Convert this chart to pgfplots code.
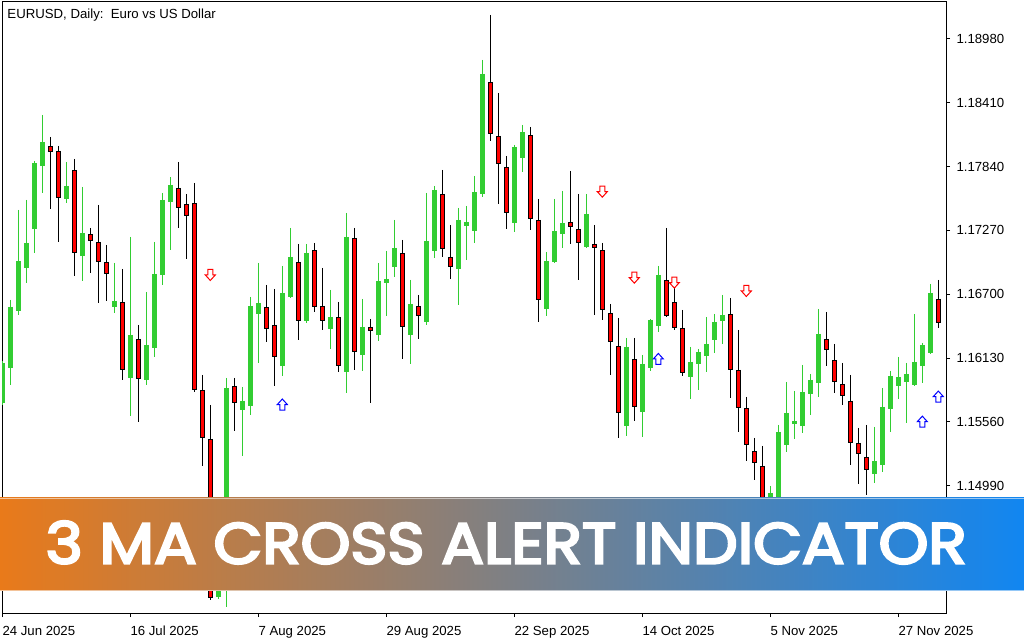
\documentclass[border=0pt]{standalone}
\usepackage{fontspec}
\setmainfont{Liberation Sans}
\newfontfamily\bannerfont{Poppins}[FakeBold=4]
\usepackage{graphicx}
\usepackage{pgfplots}
\usepackage{pgfplotstable}
\pgfplotsset{compat=1.18}

\definecolor{cgreen}{RGB}{50,205,50}
\definecolor{cred}{RGB}{255,0,0}
\definecolor{bL}{RGB}{233,122,26}
\definecolor{bM}{RGB}{128,126,129}
\definecolor{bR}{RGB}{17,134,241}

\pgfdeclareplotmark{dnarrow}{%
 \pgfpathmoveto{\pgfqpoint{-2.5bp}{5.5bp}}%
 \pgfpathlineto{\pgfqpoint{2.5bp}{5.5bp}}%
 \pgfpathlineto{\pgfqpoint{2.5bp}{0bp}}%
 \pgfpathlineto{\pgfqpoint{5bp}{0bp}}%
 \pgfpathlineto{\pgfqpoint{0bp}{-5.5bp}}%
 \pgfpathlineto{\pgfqpoint{-5bp}{0bp}}%
 \pgfpathlineto{\pgfqpoint{-2.5bp}{0bp}}%
 \pgfpathclose
 \pgfusepathqfillstroke}
\pgfdeclareplotmark{uparrow}{%
 \pgfpathmoveto{\pgfqpoint{-2.5bp}{-5.5bp}}%
 \pgfpathlineto{\pgfqpoint{2.5bp}{-5.5bp}}%
 \pgfpathlineto{\pgfqpoint{2.5bp}{0bp}}%
 \pgfpathlineto{\pgfqpoint{5bp}{0bp}}%
 \pgfpathlineto{\pgfqpoint{0bp}{5.5bp}}%
 \pgfpathlineto{\pgfqpoint{-5bp}{0bp}}%
 \pgfpathlineto{\pgfqpoint{-2.5bp}{0bp}}%
 \pgfpathclose
 \pgfusepathqfillstroke}

% bullish candles: x open high low close
\pgfplotstableread{
x o h l c
0 1.15729 1.16104 1.15711 1.16086
1 1.16042 1.16649 1.15890 1.16586
2 1.16551 1.17453 1.16515 1.16997
3 1.16935 1.17542 1.16801 1.17158
4 1.17283 1.17890 1.17069 1.17872
5 1.17846 1.18301 1.17605 1.18060
8 1.17551 1.17881 1.17515 1.17667
10 1.17042 1.17658 1.16819 1.17247
14 1.16586 1.16979 1.16533 1.16640
16 1.15952 1.17212 1.15613 1.16336
18 1.15935 1.16720 1.15890 1.16247
19 1.16220 1.17167 1.16140 1.16881
20 1.16872 1.17605 1.16783 1.17542
21 1.17524 1.17747 1.17095 1.17676
27 1.13997 1.14416 1.13979 1.14327
28 1.14327 1.15952 1.13908 1.15863
30 1.15667 1.15872 1.15256 1.15747
31 1.15702 1.16676 1.15622 1.16595
32 1.16524 1.16979 1.16086 1.16622
35 1.16060 1.16953 1.15970 1.16712
36 1.16676 1.17292 1.16667 1.17033
38 1.16461 1.17149 1.16444 1.17069
41 1.16390 1.16738 1.16211 1.16497
43 1.16006 1.17426 1.15819 1.17212
45 1.16158 1.16658 1.16015 1.16408
47 1.16336 1.16979 1.16283 1.16819
48 1.16801 1.17087 1.16506 1.16837
49 1.16944 1.17363 1.16854 1.17113
51 1.16336 1.16828 1.16077 1.16613
53 1.16453 1.17605 1.16426 1.17176
54 1.17087 1.17667 1.17024 1.17631
57 1.16926 1.17471 1.16604 1.17363
58 1.17310 1.17488 1.17006 1.17346
59 1.17265 1.17756 1.17158 1.17613
60 1.17596 1.18792 1.17569 1.18667
64 1.17337 1.18033 1.17256 1.18015
65 1.17917 1.18212 1.17792 1.18149
68 1.16569 1.17078 1.16506 1.16997
69 1.16988 1.17551 1.16979 1.17265
70 1.17238 1.17622 1.17113 1.17337
73 1.17122 1.17596 1.17113 1.17417
78 1.15524 1.16310 1.15435 1.16229
80 1.15649 1.16158 1.15426 1.16077
81 1.16042 1.16479 1.16015 1.16470
82 1.16417 1.16953 1.16363 1.16872
86 1.15961 1.16229 1.15765 1.16095
87 1.16077 1.16211 1.15845 1.16185
88 1.16149 1.16497 1.16006 1.16256
89 1.16292 1.16524 1.16176 1.16453
90 1.16461 1.16694 1.16256 1.16515
96 1.14792 1.14988 1.14684 1.14926
97 1.14890 1.15533 1.14845 1.15470
98 1.15354 1.15917 1.15292 1.15640
99 1.15542 1.15836 1.15408 1.15568
100 1.15524 1.16069 1.15461 1.15827
101 1.15810 1.15988 1.15622 1.15935
102 1.15908 1.16569 1.15783 1.16345
109 1.15095 1.15515 1.15015 1.15211
110 1.15176 1.15863 1.15113 1.15693
111 1.15676 1.16015 1.15470 1.15970
112 1.15881 1.16140 1.15765 1.15961
113 1.15917 1.16086 1.15551 1.15988
114 1.15890 1.16524 1.15881 1.16095
115 1.16060 1.16265 1.15908 1.16247
116 1.16176 1.16792 1.16167 1.16712
}\tgreen

% bearish candles: x open high low close
\pgfplotstableread{
x o h l c
6 1.18024 1.18105 1.17462 1.17971
7 1.17980 1.18024 1.17167 1.17560
9 1.17810 1.17908 1.16863 1.17069
11 1.17238 1.17292 1.16890 1.17176
12 1.17167 1.17497 1.16622 1.16988
13 1.16988 1.17140 1.16640 1.16881
15 1.16631 1.16926 1.15935 1.16024
17 1.16301 1.16426 1.15560 1.15944
22 1.17649 1.17881 1.17292 1.17471
23 1.17506 1.17596 1.17015 1.17399
24 1.17515 1.17694 1.15827 1.15845
25 1.15845 1.15979 1.15167 1.15417
26 1.15408 1.15711 1.13970 1.13988
29 1.15881 1.15952 1.15479 1.15729
33 1.16586 1.16783 1.16274 1.16390
34 1.16426 1.16747 1.15881 1.16140
37 1.16988 1.17149 1.16292 1.16461
39 1.17095 1.17158 1.16542 1.16586
40 1.16595 1.16935 1.16381 1.16461
42 1.16497 1.16631 1.16006 1.16060
44 1.17203 1.17292 1.16024 1.16185
46 1.16408 1.16479 1.15729 1.16372
50 1.17069 1.17185 1.16122 1.16408
52 1.16595 1.16694 1.16301 1.16506
55 1.17596 1.17810 1.17033 1.17104
56 1.17033 1.17319 1.16837 1.16944
61 1.18596 1.19194 1.18069 1.18131
62 1.18114 1.18498 1.17506 1.17863
63 1.17837 1.17935 1.17283 1.17426
66 1.18122 1.18194 1.17274 1.17372
67 1.17363 1.17551 1.16453 1.16649
71 1.17346 1.17801 1.17149 1.17301
72 1.17283 1.17596 1.16828 1.17158
74 1.17149 1.17319 1.16515 1.17113
75 1.17095 1.17158 1.16470 1.16560
76 1.16533 1.16613 1.15979 1.16274
77 1.16238 1.16488 1.15417 1.15640
79 1.16122 1.16310 1.15568 1.15693
83 1.16828 1.17292 1.16497 1.16506
84 1.16631 1.16765 1.16381 1.16399
85 1.16399 1.16560 1.15970 1.15997
91 1.16524 1.16667 1.15774 1.16024
92 1.16024 1.16381 1.15470 1.15685
93 1.15685 1.15783 1.15211 1.15354
94 1.15301 1.15417 1.15042 1.15193
95 1.15167 1.15345 1.14729 1.14774
103 1.16301 1.16542 1.16060 1.16202
104 1.16113 1.16256 1.15819 1.15917
105 1.15899 1.16086 1.15711 1.15792
106 1.15747 1.15979 1.15176 1.15372
107 1.15372 1.15506 1.15006 1.15274
108 1.15247 1.15533 1.14908 1.15131
117 1.16658 1.16828 1.16399 1.16444
}\tred

\pgfplotstableread{
x y
26 1.16872
75 1.17616
79 1.16848
84 1.16804
93 1.16729
}\tdown

\pgfplotstableread{
x y
35 1.15715
82 1.16122
115 1.15562
117 1.15786
}\tup

\begin{document}
\begin{tikzpicture}
\path[use as bounding box, fill=white] (0,0) rectangle (1024bp,640bp);
\begin{axis}[
  at={(2bp,27bp)}, anchor=south west,
  scale only axis, width=944bp, height=611bp,
  xmin=-0.04, xmax=117.96,
  ymin=1.13853, ymax=1.19310,
  axis line style={line width=1bp, black},
  tick align=outside, major tick length=4bp,
  tick style={line width=1bp, black},
  xtick pos=bottom, ytick pos=right, yticklabel pos=right,
  xtick={0,16,32,48,64,80,96,112},
  xticklabels={24 Jun 2025,16 Jul 2025,7 Aug 2025,29 Aug 2025,22 Sep 2025,14 Oct 2025,5 Nov 2025,27 Nov 2025},
  ytick={1.14990,1.15560,1.16130,1.16700,1.17270,1.17840,1.18410,1.18980},
  yticklabels={1.14990,1.15560,1.16130,1.16700,1.17270,1.17840,1.18410,1.18980},
  ticklabel style={font=\fontsize{13.2bp}{15bp}\selectfont, inner sep=0pt},
  xticklabel style={anchor=north west, yshift=-9bp},
  yticklabel style={anchor=west, xshift=6.3bp},
  clip=true,
]
% bullish wicks and bodies
\addplot[draw=none, mark=none, forget plot,
  error bars/.cd, y dir=minus, y explicit, error mark=none,
  error bar style={line width=1bp, draw=cgreen}]
  table[x=x, y=h, y error minus expr=\thisrow{h}-\thisrow{l}] {\tgreen};
\addplot[draw=none, mark=none, forget plot,
  error bars/.cd, y dir=minus, y explicit, error mark=none,
  error bar style={line width=5bp, draw=cgreen}]
  table[x=x, y=c, y error minus expr=\thisrow{c}-\thisrow{o}] {\tgreen};
% bearish wicks and bodies
\addplot[draw=none, mark=none, forget plot,
  error bars/.cd, y dir=minus, y explicit, error mark=none,
  error bar style={line width=1bp, draw=black}]
  table[x=x, y=h, y error minus expr=\thisrow{h}-\thisrow{l}] {\tred};
\addplot[draw=none, mark=none, forget plot,
  error bars/.cd, y dir=minus, y explicit, error mark=none,
  error bar style={line width=5bp, draw=black}]
  table[x=x, y=o, y error minus expr=\thisrow{o}-\thisrow{c}] {\tred};
\addplot[draw=none, mark=none, forget plot,
  error bars/.cd, y dir=minus, y explicit, error mark=none,
  error bar style={line width=3bp, draw=cred}]
  table[x=x, y expr=\thisrow{o}-0.00009, y error minus expr=\thisrow{o}-\thisrow{c}-0.00018] {\tred};
% signal arrows
\addplot[only marks, mark=dnarrow, mark options={draw=red, fill=white, line width=1bp}]
  table[x=x, y=y] {\tdown};
\addplot[only marks, mark=uparrow, mark options={draw=blue, fill=white, line width=1bp}]
  table[x=x, y=y] {\tup};
\end{axis}
\node[anchor=base west, inner sep=0pt, font=\fontsize{13.2bp}{15bp}\selectfont] at (7.3bp,621.7bp) {EURUSD, Daily:~~Euro vs US Dollar};
% banner
\shade[left color=bL, middle color=bM, right color=bR] (0,49bp) rectangle (1024bp,142bp);
\draw[white, opacity=0.55, line width=1.2bp] (0,141.6bp) -- (1024bp,141.6bp);
\draw[white, opacity=0.55, line width=1.2bp] (0,49.4bp) -- (1024bp,49.4bp);
\node[inner sep=0pt, text=white] at (506.2bp,97.5bp) {\resizebox{921bp}{42.5bp}{\bannerfont 3 MA CROSS ALERT INDICATOR}};
\end{tikzpicture}
\end{document}
